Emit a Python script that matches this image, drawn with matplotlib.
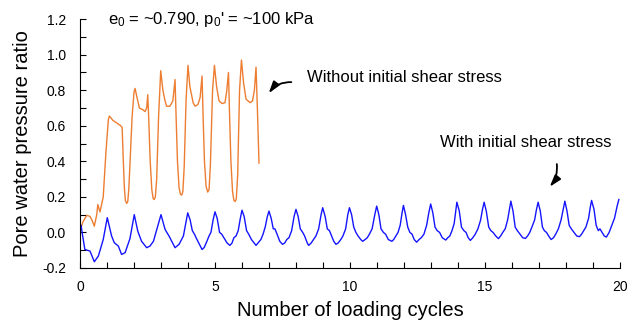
import matplotlib

matplotlib.use("Agg")
import matplotlib.pyplot as plt
from matplotlib.ticker import MultipleLocator, FormatStrFormatter

plt.rcParams["font.family"] = ["Liberation Sans", "DejaVu Sans"]
plt.rcParams["mathtext.fontset"] = "custom"
plt.rcParams["mathtext.rm"] = "Liberation Sans"
plt.rcParams["mathtext.it"] = "Liberation Sans"

# * without initial shear stress (orange)
orange_x = [0.00, 0.11, 0.25, 0.37, 0.44, 0.53, 0.62, 0.66, 0.74, 0.86,
            0.96, 1.05, 1.09, 1.22, 1.37, 1.51, 1.56, 1.60, 1.64, 1.68,
            1.73, 1.77, 1.81, 1.87, 1.93, 2.00, 2.04, 2.11, 2.20, 2.33,
            2.41, 2.47, 2.51, 2.55, 2.60, 2.66, 2.71, 2.75, 2.79, 2.84,
            2.91, 2.99, 3.07, 3.15, 3.21, 3.33, 3.44, 3.52, 3.56, 3.61,
            3.67, 3.72, 3.77, 3.81, 3.86, 3.93, 4.00, 4.07, 4.19, 4.26,
            4.37, 4.45, 4.52, 4.56, 4.61, 4.67, 4.73, 4.78, 4.83, 4.91,
            4.98, 5.06, 5.15, 5.26, 5.37, 5.43, 5.50, 5.54, 5.59, 5.65,
            5.70, 5.75, 5.79, 5.84, 5.91, 5.98, 6.06, 6.15, 6.30, 6.39,
            6.46, 6.52, 6.57, 6.63]
orange_y = [0.01, 0.06, 0.096, 0.09, 0.07, 0.035, 0.10, 0.157, 0.115, 0.20,
            0.45, 0.635, 0.655, 0.63, 0.615, 0.60, 0.59, 0.42, 0.26, 0.18,
            0.163, 0.175, 0.25, 0.45, 0.65, 0.79, 0.81, 0.76, 0.70, 0.69,
            0.68, 0.70, 0.775, 0.62, 0.40, 0.24, 0.19, 0.185, 0.20, 0.30,
            0.65, 0.91, 0.80, 0.74, 0.71, 0.71, 0.74, 0.86, 0.65, 0.40,
            0.25, 0.215, 0.21, 0.23, 0.37, 0.75, 0.94, 0.82, 0.73, 0.71,
            0.72, 0.76, 0.88, 0.65, 0.40, 0.26, 0.227, 0.24, 0.38, 0.80,
            0.94, 0.82, 0.74, 0.725, 0.73, 0.79, 0.90, 0.66, 0.40, 0.23,
            0.18, 0.174, 0.19, 0.32, 0.80, 0.97, 0.84, 0.75, 0.73, 0.74,
            0.80, 0.93, 0.70, 0.39]

# * with initial shear stress (blue)
blue_x = [0.00, 0.04, 0.07, 0.18, 0.37, 0.53, 0.68, 0.86, 1.01,
          1.17, 1.27, 1.42, 1.54, 1.67, 1.85, 2.01,
          2.14, 2.28, 2.47, 2.59, 2.72, 3.00,
          3.15, 3.31, 3.52, 3.67, 3.83, 3.99,
          4.08, 4.16, 4.24, 4.30, 4.40, 4.52, 4.60, 4.70, 4.78, 4.85, 4.93,
          5.00, 5.08, 5.17, 5.25, 5.33, 5.45, 5.55, 5.63, 5.70, 5.78, 5.86, 5.94,
          6.00, 6.08, 6.17, 6.25, 6.35, 6.45, 6.52, 6.62, 6.70, 6.78, 6.86, 6.94,
          7.00, 7.08, 7.16, 7.22, 7.30, 7.40, 7.50, 7.58, 7.66, 7.74, 7.84, 7.93,
          8.00, 8.08, 8.16, 8.25, 8.32, 8.42, 8.47, 8.56, 8.65, 8.74, 8.84, 8.93,
          8.99, 9.08, 9.16, 9.24, 9.32, 9.40, 9.48, 9.56, 9.66, 9.74, 9.84, 9.92,
          9.98, 10.06, 10.14, 10.22, 10.30, 10.40, 10.47, 10.56, 10.64, 10.72, 10.82, 10.92,
          10.99, 11.07, 11.15, 11.24, 11.32, 11.42, 11.55, 11.62, 11.70, 11.78, 11.86, 11.93,
          11.98, 12.06, 12.14, 12.22, 12.30, 12.38, 12.47, 12.56, 12.64, 12.74, 12.84, 12.92,
          12.99, 13.07, 13.15, 13.23, 13.32, 13.42, 13.55, 13.62, 13.70, 13.78, 13.86, 13.92,
          13.96, 14.05, 14.13, 14.22, 14.30, 14.38, 14.46, 14.55, 14.64, 14.74, 14.84, 14.91,
          14.97, 15.05, 15.14, 15.22, 15.30, 15.40, 15.50, 15.58, 15.66, 15.75, 15.84, 15.91,
          15.96, 16.04, 16.12, 16.20, 16.30, 16.40, 16.50, 16.58, 16.66, 16.74, 16.84, 16.91,
          16.97, 17.05, 17.13, 17.20, 17.28, 17.36, 17.45, 17.54, 17.62, 17.72, 17.82, 17.90,
          17.96, 18.04, 18.12, 18.20, 18.30, 18.40, 18.50, 18.58, 18.66, 18.74, 18.84, 18.90,
          18.95, 19.04, 19.12, 19.20, 19.26, 19.34, 19.42, 19.50, 19.60, 19.70, 19.80, 19.90, 19.96]
blue_y = [0.03, 0.04, 0.007, -0.096, -0.105, -0.165, -0.133, -0.04, 0.083,
          -0.02, -0.058, -0.077, -0.124, -0.114, -0.035, 0.10,
          0.007, -0.05, -0.086, -0.077, -0.05, 0.10,
          0.017, -0.024, -0.086, -0.067, -0.02, 0.11,
          0.07, 0.01, -0.01, -0.03, -0.06, -0.096, -0.085, -0.05, -0.02, 0.00, 0.07,
          0.116, 0.08, 0.00, -0.01, -0.03, -0.06, -0.073, -0.06, -0.03, -0.02, 0.01, 0.08,
          0.125, 0.09, 0.01, -0.01, -0.04, -0.06, -0.073, -0.055, -0.04, -0.01, 0.03, 0.09,
          0.120, 0.08, 0.02, 0.02, -0.01, -0.05, -0.067, -0.06, -0.04, -0.03, 0.01, 0.09,
          0.130, 0.09, 0.02, 0.00, -0.02, -0.06, -0.073, -0.06, -0.04, -0.02, 0.02, 0.10,
          0.139, 0.09, 0.02, 0.01, -0.02, -0.05, -0.067, -0.06, -0.04, -0.02, 0.02, 0.10,
          0.139, 0.10, 0.03, 0.00, -0.02, -0.04, -0.05, -0.04, -0.03, -0.01, 0.02, 0.10,
          0.148, 0.10, 0.02, 0.00, -0.01, -0.04, -0.05, -0.04, -0.02, 0.00, 0.04, 0.11,
          0.152, 0.10, 0.03, 0.00, -0.01, -0.04, -0.055, -0.04, -0.03, -0.01, 0.04, 0.11,
          0.160, 0.11, 0.03, 0.01, 0.00, -0.03, -0.043, -0.03, -0.02, 0.01, 0.05, 0.12,
          0.170, 0.12, 0.03, 0.01, 0.00, -0.03, -0.045, -0.03, -0.01, 0.02, 0.07, 0.13,
          0.170, 0.12, 0.03, 0.01, 0.00, -0.02, -0.035, -0.02, 0.00, 0.02, 0.07, 0.13,
          0.176, 0.12, 0.03, 0.01, -0.01, -0.03, -0.034, -0.02, 0.00, 0.03, 0.07, 0.13,
          0.170, 0.12, 0.03, 0.01, 0.00, -0.02, -0.04, -0.03, -0.01, 0.02, 0.07, 0.13,
          0.176, 0.12, 0.04, 0.02, 0.00, -0.02, -0.024, -0.01, 0.01, 0.03, 0.08, 0.14,
          0.180, 0.13, 0.04, 0.01, 0.02, 0.00, -0.02, -0.026, 0.00, 0.04, 0.08, 0.15, 0.185]

x_ticks = [0, 5, 10, 15, 20]

fig = plt.figure(figsize=(6.3, 3.3), dpi=100)
ax = fig.add_axes([0.127, 0.188, 0.857, 0.754])

ax.plot(orange_x, orange_y, color="#ED7D31", linewidth=1.0)
ax.plot(blue_x, blue_y, color="#1414FF", linewidth=1.0)

ax.set_xlim(0, 20)
ax.set_ylim(-0.2, 1.2)
ax.set_xticks(x_ticks)
ax.xaxis.set_minor_locator(MultipleLocator(1))
ax.yaxis.set_major_locator(MultipleLocator(0.2))
ax.yaxis.set_minor_locator(MultipleLocator(0.1))
ax.yaxis.set_major_formatter(FormatStrFormatter("%.1f"))

for side in ["top", "right"]:
    ax.spines[side].set_visible(False)
ax.tick_params(which="both", direction="in", length=4, width=0.8, labelsize=10)
ax.tick_params(axis="x", pad=9)
ax.tick_params(axis="y", pad=10)

ax.set_xlabel("Number of loading cycles", fontsize=14.5, labelpad=5)
ax.set_ylabel("Pore water pressure ratio", fontsize=14.5, labelpad=7)

ax.text(1.05, 1.2, r"e$_0$ = ~0.790, p$_0$' = ~100 kPa", fontsize=12, va="center")
ax.text(8.4, 0.87, "Without initial shear stress", fontsize=12, va="center")
ax.text(13.33, 0.505, "With initial shear stress", fontsize=12, va="center")

ax.annotate("", xy=(6.93, 0.77), xytext=(7.93, 0.845),
            arrowprops=dict(arrowstyle="-|>,head_length=0.7,head_width=0.22",
                            color="black", lw=1.3,
                            connectionstyle="arc3,rad=0.3"))
ax.annotate("", xy=(17.33, 0.245), xytext=(17.65, 0.40),
            arrowprops=dict(arrowstyle="-|>,head_length=0.7,head_width=0.22",
                            color="black", lw=1.3,
                            connectionstyle="arc3,rad=-0.25"))

plt.savefig("out.png", dpi=100)
plt.close()
